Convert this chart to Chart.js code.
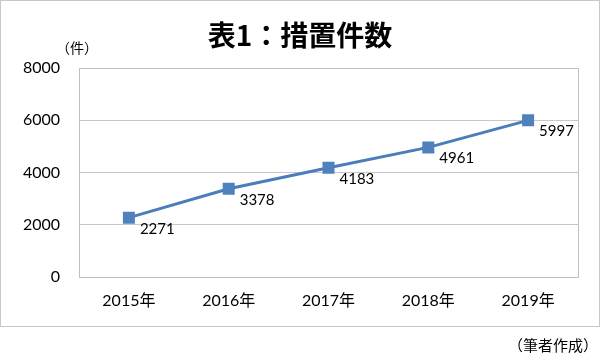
<!DOCTYPE html>
<html lang="ja">
<head>
<meta charset="utf-8">
<script src="https://cdn.jsdelivr.net/npm/chart.js@4"></script>
<style>
  body { margin: 0; background: #fff; }
</style>
</head>
<body>
<canvas id="kensuChart" width="600" height="360"></canvas>
<script>
// データ
const years = ['2015年', '2016年', '2017年', '2018年', '2019年'];
const kensu = [2271, 3378, 4183, 4961, 5997];
const yTicks = [0, 2000, 4000, 6000, 8000];

const titleText = '表1：措置件数';
const unitText = '（件）';
const sourceText = '（筆者作成）';

const numFont = 'Lato, "Noto Sans CJK JP", sans-serif';
const jpFont = '"Noto Sans CJK JP", sans-serif';

// 枠・タイトル・注記
const framePlugin = {
    id: 'frame',
    beforeDraw(chart) {
        const ctx = chart.ctx;
        ctx.save();
        ctx.fillStyle = '#fff';
        ctx.fillRect(0, 0, chart.width, chart.height);
        ctx.strokeStyle = '#c8c8c8';
        ctx.lineWidth = 1;
        ctx.strokeRect(0.5, 0.5, 599, 326);

        ctx.fillStyle = '#000';
        ctx.textAlign = 'center';
        ctx.textBaseline = 'middle';
        ctx.font = 'bold 28px ' + jpFont;
        ctx.fillText(titleText, 300, 35);

        ctx.font = '14px ' + jpFont;
        ctx.textAlign = 'left';
        ctx.fillText(unitText, 56, 48);

        ctx.font = '15px ' + jpFont;
        ctx.textAlign = 'right';
        ctx.fillText(sourceText, 598, 345);
        ctx.restore();
    },
    beforeDatasetsDraw(chart) {
        const a = chart.chartArea;
        const ctx = chart.ctx;
        ctx.save();
        ctx.strokeStyle = '#c0c0c0';
        ctx.lineWidth = 1;
        ctx.strokeRect(Math.round(a.left) + 0.5, Math.round(a.top) + 0.5,
            Math.round(a.right - a.left), Math.round(a.bottom - a.top));
        ctx.restore();
    }
};

// データラベル（右下）
const labelPlugin = {
    id: 'pointLabels',
    afterDatasetsDraw(chart) {
        const ctx = chart.ctx;
        const meta = chart.getDatasetMeta(0);
        ctx.save();
        ctx.fillStyle = '#000';
        ctx.font = '15px ' + numFont;
        ctx.textAlign = 'left';
        ctx.textBaseline = 'middle';
        meta.data.forEach((pt, i) => {
            ctx.fillText(String(kensu[i]), pt.x + 11, pt.y + 11);
        });
        ctx.restore();
    }
};

const ctx = document.querySelector('#kensuChart').getContext('2d');
new Chart(ctx, {
    type: 'line',
    data: {
        labels: years,
        datasets: [{
            data: kensu,
            borderColor: '#4a7ebb',
            borderWidth: 3,
            pointStyle: 'rect',
            pointRadius: 8.5,
            pointBackgroundColor: '#4f81bd',
            pointBorderColor: '#4f81bd',
            pointBorderWidth: 0,
            tension: 0
        }]
    },
    options: {
        responsive: false,
        devicePixelRatio: 1,
        animation: false,
        layout: { padding: { top: 68, right: 22, left: 0, bottom: 0 } },
        plugins: {
            legend: { display: false },
            title: { display: false },
            tooltip: { enabled: false }
        },
        scales: {
            x: {
                offset: true,
                grid: { display: false, drawTicks: false },
                border: { display: false },
                ticks: {
                    color: '#000',
                    padding: 14,
                    font: { size: 16, family: numFont }
                },
                afterFit(scale) { scale.height = 83; }
            },
            y: {
                min: 0,
                max: 8000,
                afterBuildTicks(scale) {
                    scale.ticks = yTicks.map(v => ({ value: v }));
                },
                grid: { color: '#c8c8c8', drawTicks: false },
                border: { display: false },
                ticks: {
                    color: '#000',
                    padding: 19,
                    font: { size: 16, family: numFont },
                    callback: v => String(v)
                },
                afterFit(scale) { scale.width = 79; }
            }
        }
    },
    plugins: [framePlugin, labelPlugin]
});
</script>
</body>
</html>
